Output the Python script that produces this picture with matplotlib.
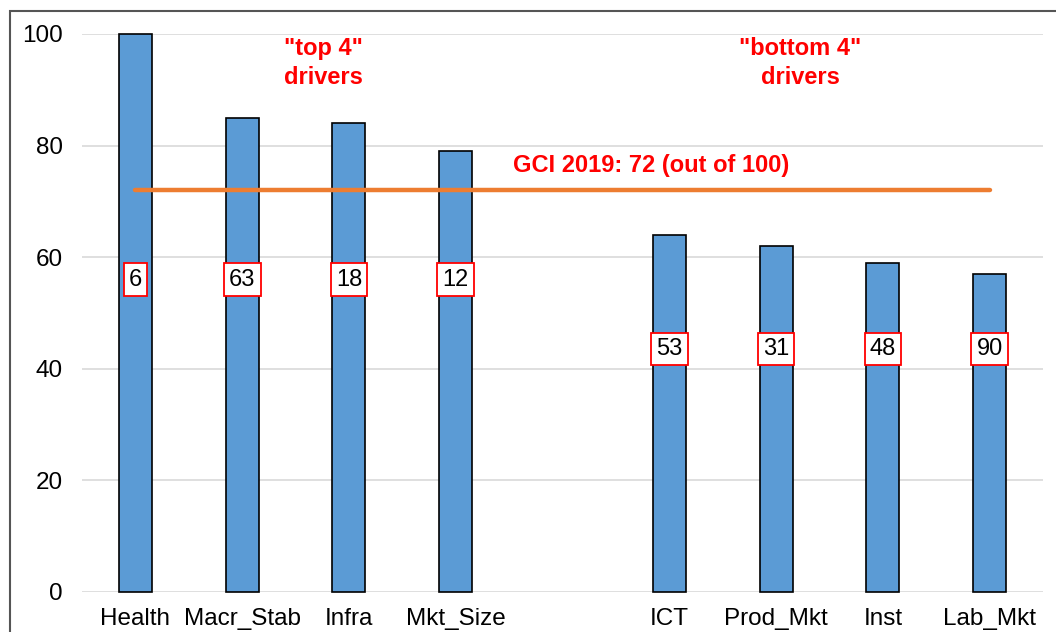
import matplotlib.pyplot as plt
from matplotlib.patches import Rectangle

plt.rcParams['font.family'] = ['Liberation Sans', 'DejaVu Sans']

pillars = ["Health", "Macr_Stab", "Infra", "Mkt_Size", "",
           "ICT", "Prod_Mkt", "Inst", "Lab_Mkt"]
scores = [100, 85, 84, 79, None, 64, 62, 59, 57]
ranks = ["6", "63", "18", "12", None, "53", "31", "48", "90"]
rank_y = [56, 56, 56, 56, None, 43.5, 43.5, 43.5, 43.5]
gci_score = 72

fig = plt.figure(figsize=(10.56, 6.32), dpi=100)
ax = fig.add_axes([82 / 1056, 1 - 592 / 632, (1043 - 82) / 1056, (592 - 34) / 632])

xs = [i for i, s in enumerate(scores) if s is not None]
vals = [s for s in scores if s is not None]
ax.bar(xs, vals, width=0.31, color="#5b9bd5", edgecolor="black",
       linewidth=1.2, zorder=3, clip_on=False)

# average line, from first to last bar
ax.plot([xs[0], xs[-1]], [gci_score, gci_score], color="#ed7d31",
        linewidth=3.2, solid_capstyle="round", zorder=4)

for i, r in enumerate(ranks):
    if r is None:
        continue
    ax.text(i, rank_y[i], r, ha="center", va="center", fontsize=17,
            zorder=5, bbox=dict(boxstyle="square,pad=0.22", fc="white",
                                ec="red", lw=1.3))

ax.text(1.76, 94.8, '"top 4"\ndrivers', ha="center", va="center",
        fontsize=17, fontweight="bold", color="red", linespacing=1.3)
ax.text(6.23, 94.8, '"bottom 4"\ndrivers', ha="center", va="center",
        fontsize=17, fontweight="bold", color="red", linespacing=1.3)
ax.text(4.83, 76.5, "GCI 2019: 72 (out of 100)", ha="center", va="center",
        fontsize=17, fontweight="bold", color="red")

ax.set_xlim(-0.5, 8.5)
ax.set_ylim(0, 100)
ax.set_yticks(range(0, 101, 20))
ax.set_xticks(range(len(pillars)))
ax.set_xticklabels(pillars, va="baseline")
ax.tick_params(axis="both", length=0, labelsize=17.5)
ax.tick_params(axis="y", pad=14)
ax.tick_params(axis="x", pad=24)
ax.grid(axis="y", color="#d9d9d9", linewidth=1.2, zorder=0)
for s in ax.spines.values():
    s.set_visible(False)

# outer chart frame (cut off at right and bottom)
fig.patches.append(Rectangle((10 / 1056, -0.1), 1.2, 1 - 11 / 632 + 0.1,
                             transform=fig.transFigure, fill=False,
                             edgecolor="#555555", linewidth=1.5))

fig.savefig("out.png", dpi=100)
